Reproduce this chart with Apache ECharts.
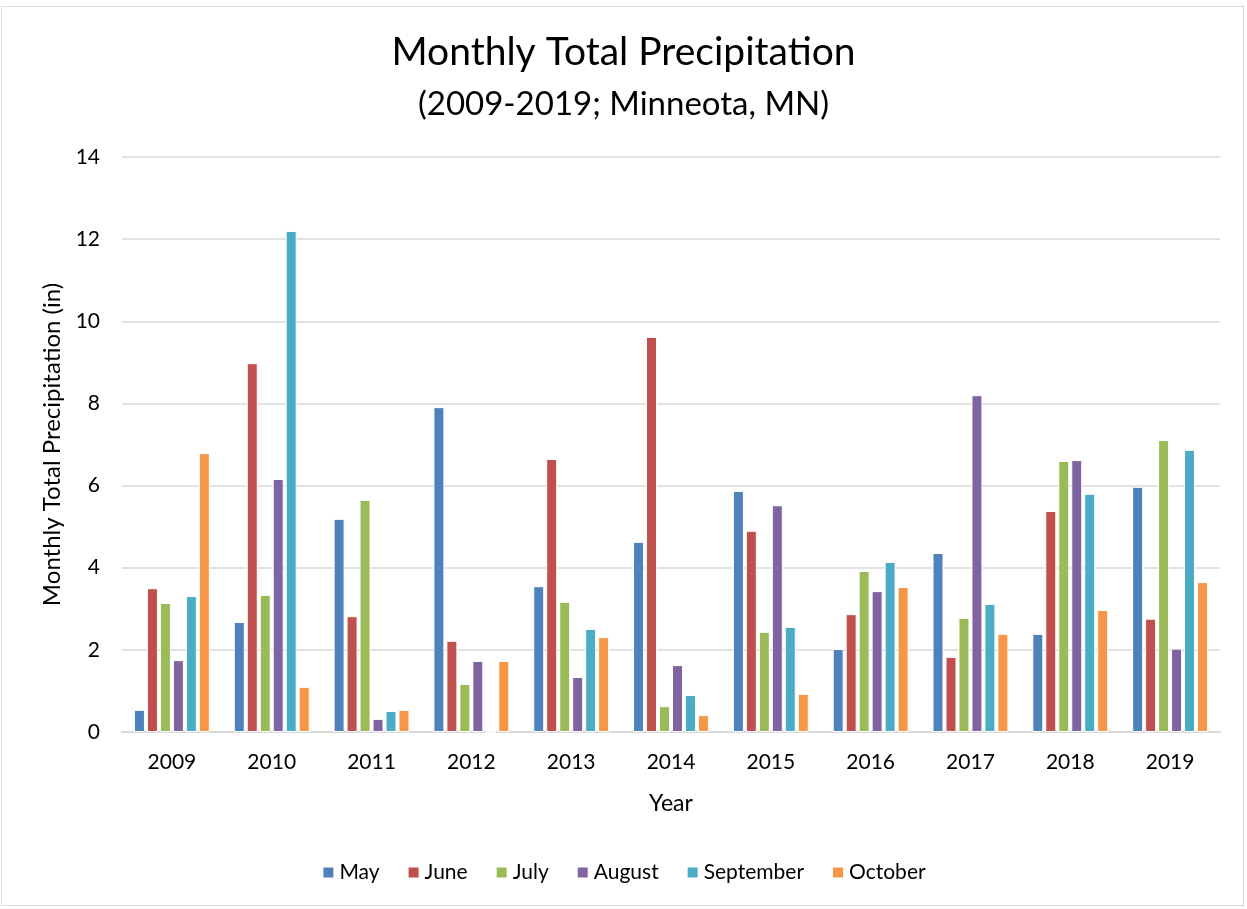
<!DOCTYPE html>
<html>
<head>
<meta charset="utf-8">
<script src="https://cdn.jsdelivr.net/npm/echarts@6/dist/echarts.min.js"></script>
<style>
  html, body { margin: 0; padding: 0; background: #fff; }
  #chart { width: 1247px; height: 909px; }
  .frame { position: absolute; left: 1px; top: 6px; width: 1243px; height: 900px; border: 1px solid #d9d9d9; box-sizing: border-box; pointer-events: none; }
</style>
</head>
<body>
<div id="chart"></div>
<div class="frame"></div>
<script>
// 年份
const years = ['2009', '2010', '2011', '2012', '2013', '2014', '2015', '2016', '2017', '2018', '2019'];
// 每月降水量 (in)
const may = [0.54, 2.68, 5.19, 7.91, 3.55, 4.63, 5.87, 2.02, 4.36, 2.39, 5.97];
const june = [3.5, 8.98, 2.82, 2.22, 6.65, 9.62, 4.9, 2.87, 1.83, 5.38, 2.76];
const july = [3.14, 3.34, 5.65, 1.17, 3.17, 0.63, 2.44, 3.92, 2.78, 6.6, 7.11];
const august = [1.75, 6.16, 0.32, 1.73, 1.34, 1.63, 5.52, 3.43, 8.2, 6.62, 2.03];
const september = [3.31, 12.2, 0.51, 0, 2.51, 0.9, 2.56, 4.14, 3.12, 5.8, 6.87];
const october = [6.79, 1.1, 0.54, 1.73, 2.31, 0.41, 0.93, 3.53, 2.39, 2.97, 3.65];
const yTicks = [0, 2, 4, 6, 8, 10, 12, 14];

const font = 'Lato, "Open Sans", sans-serif';
const months = [
  { name: 'May', data: may, color: '#4F81BD' },
  { name: 'June', data: june, color: '#C0504D' },
  { name: 'July', data: july, color: '#9BBB59' },
  { name: 'August', data: august, color: '#8064A2' },
  { name: 'September', data: september, color: '#4BACC6' },
  { name: 'October', data: october, color: '#F79646' }
];

let myChart = echarts.init(document.getElementById('chart'));
let option = {
  animation: false,
  textStyle: { fontFamily: font },
  title: {
    text: 'Monthly Total Precipitation',
    subtext: '(2009-2019; Minneota, MN)',
    left: 'center',
    top: 28,
    itemGap: 16,
    textStyle: { fontFamily: font, fontSize: 39, fontWeight: 'normal', color: '#000' },
    subtextStyle: { fontFamily: font, fontSize: 33, color: '#000' }
  },
  legend: {
    bottom: 21,
    left: 'center',
    itemWidth: 12,
    itemHeight: 12,
    itemGap: 27,
    icon: 'rect',
    textStyle: { fontFamily: font, fontSize: 21, color: '#000' },
    data: months.map(m => m.name)
  },
  grid: { left: 122, right: 27, top: 157, bottom: 177 },
  xAxis: {
    type: 'category',
    data: years,
    name: 'Year',
    nameLocation: 'middle',
    nameGap: 60,
    nameTextStyle: { fontFamily: font, fontSize: 23, color: '#000' },
    axisLine: { lineStyle: { color: '#d9d9d9', width: 2 } },
    axisTick: { show: false },
    axisLabel: { fontFamily: font, fontSize: 21, color: '#000', margin: 20 }
  },
  yAxis: {
    type: 'value',
    min: yTicks[0],
    max: yTicks[yTicks.length - 1],
    interval: 2,
    name: 'Monthly Total Precipitation (in)',
    nameLocation: 'middle',
    nameGap: 58,
    nameTextStyle: { fontFamily: font, fontSize: 24, color: '#000' },
    axisLine: { show: false },
    axisTick: { show: false },
    axisLabel: { fontFamily: font, fontSize: 21, color: '#000', margin: 22 },
    splitLine: { lineStyle: { color: '#d9d9d9', width: 1.5 } }
  },
  series: months.map(m => ({
    name: m.name,
    type: 'bar',
    data: m.data,
    barWidth: 11,
    barGap: '18%',
    itemStyle: { color: m.color, borderColor: '#fff', borderWidth: 1 }
  }))
};
myChart.setOption(option);
</script>
</body>
</html>
